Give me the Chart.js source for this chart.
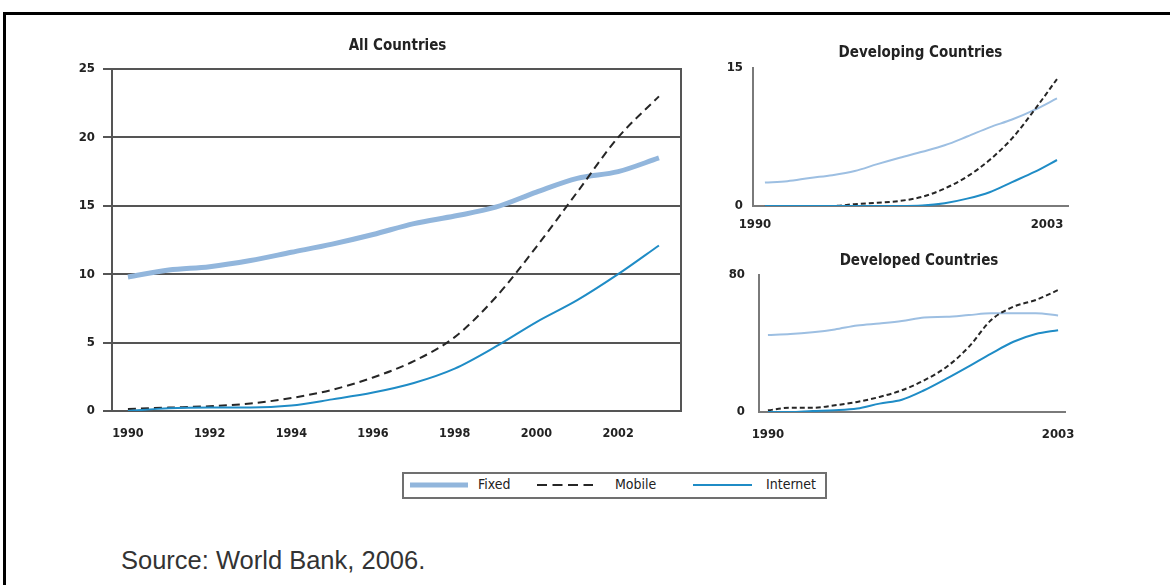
<!DOCTYPE html>
<html>
<head>
<meta charset="utf-8">
<script src="https://cdn.jsdelivr.net/npm/chart.js@4.4.1/dist/chart.umd.min.js"></script>
<style>
  html, body { margin: 0; padding: 0; background: #fff; }
  body { width: 1170px; height: 585px; position: relative; overflow: hidden; }
  #frame { position: absolute; left: 3px; top: 12px; width: 1200px; height: 620px;
           border-top: 3px solid #000; border-left: 3px solid #000; }
  canvas { position: absolute; }
  #legend { position: absolute; left: 402px; top: 472px; width: 425px; height: 27px;
            box-sizing: border-box; border: 2px solid #707070; background: #fff; }
  #legend svg { position: absolute; top: 0; }
  #legend .lbl { position: absolute; top: 2px; line-height: 23px; white-space: nowrap;
                 font: 14px 'DejaVu Sans Condensed', 'Liberation Sans Narrow', sans-serif; color: #222; }
  #source { position: absolute; left: 121px; top: 546px; line-height: 26px;
            font: 25.5px 'Liberation Sans', Arial, sans-serif; color: #333; }
</style>
</head>
<body>
<div id="frame"></div>
<canvas id="allChart" width="700" height="460" style="left:0;top:0"></canvas>
<canvas id="developingChart" width="470" height="250" style="left:700px;top:0"></canvas>
<canvas id="developedChart" width="470" height="200" style="left:700px;top:250px"></canvas>
<div id="legend"></div>
<div id="source">Source: World Bank, 2006.</div>

<script>
// ---- data: subscriptions per 100 people, 1990-2003 ----
const years = [1990, 1991, 1992, 1993, 1994, 1995, 1996, 1997, 1998, 1999, 2000, 2001, 2002, 2003];
const seriesNames = ['Fixed', 'Mobile', 'Internet'];
const panelTitles = ['All Countries', 'Developing Countries', 'Developed Countries'];

const allFixed    = [9.8, 10.3, 10.55, 11.0, 11.6, 12.2, 12.9, 13.7, 14.25, 14.9, 16.0, 17.0, 17.5, 18.5];
const allMobile   = [0.15, 0.25, 0.35, 0.55, 0.95, 1.55, 2.45, 3.65, 5.4, 8.3, 12.0, 16.0, 20.0, 23.0];
const allInternet = [0.0, 0.2, 0.25, 0.25, 0.4, 0.85, 1.35, 2.05, 3.1, 4.7, 6.5, 8.1, 10.0, 12.1];

const developingFixed    = [2.55, 2.7, 3.05, 3.35, 3.8, 4.55, 5.25, 5.9, 6.6, 7.55, 8.55, 9.4, 10.45, 11.7];
const developingMobile   = [0, 0, 0, 0, 0.2, 0.35, 0.55, 1.0, 1.9, 3.2, 5.0, 7.35, 10.45, 13.8];
const developingInternet = [0, 0, 0, 0, 0, 0, 0, 0.05, 0.3, 0.8, 1.5, 2.6, 3.7, 5.0];

const developedFixed    = [44.9, 45.5, 46.6, 48.2, 50.5, 51.7, 53.1, 55.2, 55.6, 56.6, 57.6, 57.6, 57.6, 56.4];
const developedMobile   = [1.0, 2.5, 2.5, 3.9, 5.9, 8.8, 12.7, 18.5, 26.3, 38.0, 53.7, 61.5, 65.4, 71.2];
const developedInternet = [0, 0, 0.6, 1.0, 2.0, 4.9, 7.2, 12.7, 19.5, 26.7, 34.1, 41.0, 45.5, 47.8];

// tick labels
const allTicksX = [1990, 1992, 1994, 1996, 1998, 2000, 2002];
const allTicksY = [0, 5, 10, 15, 20, 25];
const developingTicksX = [1990, 2003];
const developingTicksY = [0, 15];
const developedTicksX = [1990, 2003];
const developedTicksY = [0, 80];

// ---- styles ----
const COLORS = { fixed: '#92b6dc', fixedThin: '#9dbfe2', mobile: '#262626', internet: '#1f8cc6',
                 grid: '#555555', axis: '#7a7a7a', text: '#222222' };
const COND = "'DejaVu Sans Condensed', 'Liberation Sans Narrow', sans-serif";

Chart.defaults.animation = false;
Chart.defaults.responsive = false;
Chart.defaults.devicePixelRatio = 1;

// Panel heading drawn above the plot area
const panelTitle = {
  id: 'panelTitle',
  afterDraw(chart, args, opts) {
    const { ctx, chartArea } = chart;
    ctx.save();
    ctx.font = `bold ${opts.size}px ${COND}`;
    ctx.fillStyle = COLORS.text;
    ctx.textAlign = 'center';
    ctx.textBaseline = 'middle';
    ctx.fillText(opts.text, (chartArea.left + chartArea.right) / 2 + opts.dx, chartArea.top + opts.dy);
    ctx.restore();
  }
};

function points(vals) {
  return years.map((x, i) => ({ x, y: vals[i] }));
}

// lower "order" is painted on top: Internet over Mobile over Fixed
function datasets(fixed, mobile, internet, big) {
  const common = { pointRadius: 0, pointHoverRadius: 0, fill: false, cubicInterpolationMode: 'monotone' };
  return [
    Object.assign({ label: seriesNames[0], data: points(fixed), borderColor: big ? COLORS.fixed : COLORS.fixedThin,
                    borderWidth: big ? 5 : 2, order: 3 }, common),
    Object.assign({ label: seriesNames[1], data: points(mobile), borderColor: COLORS.mobile,
                    borderWidth: 2, borderDash: big ? [8, 5] : [5, 3], order: 2 }, common),
    Object.assign({ label: seriesNames[2], data: points(internet), borderColor: COLORS.internet,
                    borderWidth: 2, order: 1 }, common)
  ];
}

function fixedTicks(list) {
  return scale => { scale.ticks = list.map(v => ({ value: v })); };
}

function tickFont(size) {
  return { family: COND, size: size, weight: 'bold' };
}

// ---- All Countries ----
const allChart = new Chart(document.getElementById('allChart'), {
  type: 'line',
  data: { datasets: datasets(allFixed, allMobile, allInternet, true) },
  plugins: [panelTitle],
  options: {
    layout: { padding: { left: 0, top: 69, right: 19, bottom: 0 } },
    plugins: { legend: { display: false }, tooltip: { enabled: false },
               panelTitle: { text: panelTitles[0], size: 15, dx: 1, dy: -23 } },
    scales: {
      x: {
        type: 'linear', min: 1989.61, max: 2003.54,
        afterBuildTicks: fixedTicks(allTicksX),
        afterFit: s => { s.height = 49; },
        grid: { display: false, drawTicks: false },
        border: { display: true, color: COLORS.grid, width: 2 },
        ticks: { font: tickFont(12.5), color: COLORS.text, padding: 15, maxRotation: 0, autoSkip: false,
                 callback: v => String(v) }
      },
      y: {
        min: 0, max: 25,
        afterBuildTicks: fixedTicks(allTicksY),
        afterFit: s => { s.width = 112; },
        grid: { color: COLORS.grid, lineWidth: 2, drawTicks: true, tickLength: 9 },
        border: { display: true, color: COLORS.grid, width: 2 },
        ticks: { font: tickFont(13), color: COLORS.text, padding: 8 }
      },
      y2: {
        position: 'right', min: 0, max: 25,
        afterFit: s => { s.width = 0; },
        grid: { display: false, drawTicks: false },
        border: { display: true, color: COLORS.grid, width: 2 },
        ticks: { display: false }
      }
    }
  }
});

// ---- small panels ----
function smallPanel(id, fixed, mobile, internet, cfg) {
  return new Chart(document.getElementById(id), {
    type: 'line',
    data: { datasets: datasets(fixed, mobile, internet, false) },
    plugins: [panelTitle],
    options: {
      layout: { padding: { left: 0, top: cfg.top, right: cfg.right, bottom: 0 } },
      plugins: { legend: { display: false }, tooltip: { enabled: false },
                 panelTitle: { text: cfg.title, size: 15, dx: cfg.titleDx, dy: cfg.titleDy } },
      scales: {
        x: {
          type: 'linear', min: cfg.xMin, max: cfg.xMax,
          afterBuildTicks: fixedTicks(cfg.ticksX),
          afterFit: s => { s.height = cfg.xHeight; },
          grid: { display: false, drawTicks: false },
          border: { display: true, color: COLORS.axis, width: 2 },
          ticks: { font: tickFont(13), color: COLORS.text, padding: cfg.xPad, labelOffset: cfg.labelOffset,
                   maxRotation: 0, autoSkip: false, callback: v => String(v) }
        },
        y: {
          min: cfg.ticksY[0], max: cfg.ticksY[cfg.ticksY.length - 1],
          afterBuildTicks: fixedTicks(cfg.ticksY),
          afterFit: s => { s.width = cfg.yWidth; },
          grid: { display: false, drawTicks: false },
          border: { display: true, color: COLORS.axis, width: 2 },
          ticks: { font: tickFont(13), color: COLORS.text, padding: cfg.yPad }
        }
      }
    }
  });
}

smallPanel('developingChart', developingFixed, developingMobile, developingInternet, {
  title: panelTitles[1], titleDx: 10, titleDy: -15,
  top: 68, right: 102, xHeight: 44, yWidth: 53,
  xMin: 1989.47, xMax: 2003.49, ticksX: developingTicksX, ticksY: developingTicksY,
  xPad: 11, yPad: 10, labelOffset: -10
});

smallPanel('developedChart', developedFixed, developedMobile, developedInternet, {
  title: panelTitles[2], titleDx: 7, titleDy: -14,
  top: 25, right: 105, xHeight: 38, yWidth: 59,
  xMin: 1989.6, xMax: 2003.31, ticksX: developedTicksX, ticksY: developedTicksY,
  xPad: 15, yPad: 14, labelOffset: 0
});

// ---- shared legend, built from the main chart's series ----
const legendLayout = [
  { line: [6, 64], text: 74 },
  { line: [133, 189], text: 211 },
  { line: [289, 348], text: 362 }
];
const legendBox = document.getElementById('legend');
const NS = 'http://www.w3.org/2000/svg';
allChart.data.datasets.forEach((ds, i) => {
  const pos = legendLayout[i];
  const svg = document.createElementNS(NS, 'svg');
  svg.setAttribute('width', pos.line[1] - pos.line[0]);
  svg.setAttribute('height', 23);
  svg.style.left = pos.line[0] + 'px';
  const ln = document.createElementNS(NS, 'line');
  ln.setAttribute('x1', 0); ln.setAttribute('x2', pos.line[1] - pos.line[0]);
  ln.setAttribute('y1', 11); ln.setAttribute('y2', 11);
  ln.setAttribute('stroke', ds.borderColor);
  ln.setAttribute('stroke-width', ds.borderWidth);
  if (ds.borderDash) ln.setAttribute('stroke-dasharray', '10 5.5');
  svg.appendChild(ln);
  legendBox.appendChild(svg);
  const lbl = document.createElement('span');
  lbl.className = 'lbl';
  lbl.style.left = pos.text + 'px';
  lbl.textContent = ds.label;
  legendBox.appendChild(lbl);
});
</script>
</body>
</html>
